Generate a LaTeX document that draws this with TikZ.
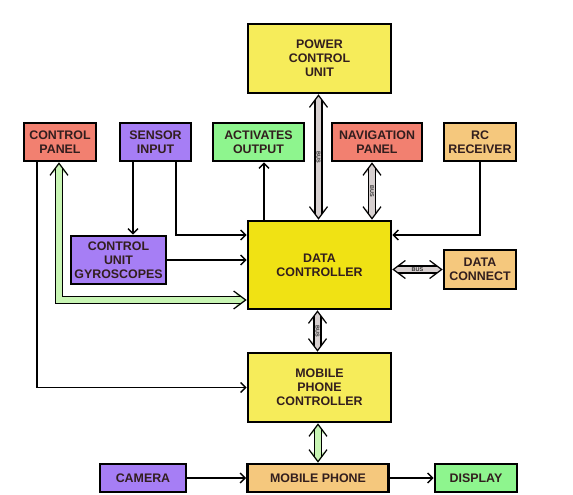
\documentclass[tikz,border=0pt]{standalone}
\usepackage{fontspec}
\setmainfont{Liberation Sans}
\usetikzlibrary{arrows.meta}
\definecolor{paleyellow}{RGB}{246,236,90}
\definecolor{deepyellow}{RGB}{240,226,20}
\definecolor{salmon}{RGB}{242,128,112}
\definecolor{lilac}{RGB}{166,126,245}
\definecolor{mint}{RGB}{142,245,142}
\definecolor{apricot}{RGB}{245,200,125}
\definecolor{txt}{RGB}{50,30,30}
\definecolor{gfill}{RGB}{200,245,180}
\definecolor{busfill}{RGB}{215,208,208}
\newcommand\widelink[2]{%
  \draw[tipfill=#1] #2;
  \draw[shaft=#1] #2;
  \draw[tipbarb] #2;
}
\begin{document}
\begin{tikzpicture}[x=1pt,y=-1pt,
  box/.style={draw=black, line width=2.8pt, font=\bfseries\fontsize{12.4}{14}\selectfont,
    text=txt, align=center, inner sep=0pt},
  conn/.style={line width=1.4pt, -{Straight Barb[length=5pt,width=10pt]}},
  tipfill/.style={draw=#1, line width=0.2pt, dash pattern=on 0pt off 2000pt,
    {Triangle[length=10pt,width=15pt,fill=#1]}-{Triangle[length=10pt,width=15pt,fill=#1]}},
  shaft/.style={double=#1, double distance=5.8pt, line width=1.2pt,
    shorten <=5.5pt, shorten >=5.5pt},
  tipbarb/.style={line width=1.2pt, dash pattern=on 0pt off 2000pt,
    {Straight Barb[length=12pt,width=18pt]}-{Straight Barb[length=12pt,width=18pt]}},
  buslabel/.style={font=\fontsize{5.5}{5.5}\selectfont\bfseries, text=gray!40!black, inner sep=0pt}]
\useasboundingbox[fill=white] (0,0) rectangle (573,495);

\node[box, fill=paleyellow, minimum width=143pt, minimum height=69pt] (pcu) at (319.5,58.5) {POWER\\CONTROL\\UNIT};
\node[box, fill=salmon, minimum width=72pt, minimum height=38pt] (cp) at (60,142) {CONTROL\\PANEL};
\node[box, fill=lilac, minimum width=71pt, minimum height=38pt] (si) at (155.5,142) {SENSOR\\INPUT};
\node[box, fill=mint, minimum width=91pt, minimum height=38pt] (ao) at (258.5,142) {ACTIVATES\\OUTPUT};
\node[box, fill=salmon, minimum width=90pt, minimum height=38pt] (np) at (377,142) {NAVIGATION\\PANEL};
\node[box, fill=apricot, minimum width=72pt, minimum height=38pt] (rc) at (480,142) {RC\\RECEIVER};
\node[box, fill=deepyellow, minimum width=143pt, minimum height=88pt] (dc) at (319.5,265) {DATA\\CONTROLLER};
\node[box, fill=lilac, minimum width=95pt, minimum height=48pt] (cug) at (118.5,260) {CONTROL\\UNIT\\GYROSCOPES};
\node[box, fill=apricot, minimum width=72pt, minimum height=39pt] (dcon) at (480,269.5) {DATA\\CONNECT};
\node[box, fill=paleyellow, minimum width=143pt, minimum height=69pt] (mpc) at (319.5,387.5) {MOBILE\\PHONE\\CONTROLLER};
\node[box, fill=lilac, minimum width=86pt, minimum height=28pt] (cam) at (143,478) {CAMERA};
\node[box, fill=apricot, minimum width=141pt, minimum height=28pt] (mp) at (318,478) {MOBILE PHONE};
\node[box, fill=mint, minimum width=82pt, minimum height=28pt] (disp) at (476,478) {DISPLAY};

% thin connectors
\draw[conn] ([xshift=-23pt]cp.south) |- (mpc.west);
\draw[conn] ([xshift=-22.5pt]si.south) -- ([xshift=-22.5pt]si.south |- cug.north);
\draw[conn] ([xshift=20.5pt]si.south) |- ([yshift=30pt]dc.west);
\draw[conn] (cug.east) -- (cug.east -| dc.west);
\draw[conn] ([xshift=-55.5pt]dc.north) -- ([xshift=-55.5pt]dc.north |- ao.south);
\draw[conn] (rc.south) |- ([yshift=30pt]dc.east);
\draw[conn] (cam.east) -- (mp.west);
\draw[conn] (mp.east) -- (disp.west);

% green wide connectors
\widelink{gfill}{([xshift=-1pt]cp.south) |- ([yshift=-35pt]dc.west)}
\widelink{gfill}{(mpc.south -| mp.north) -- (mp.north)}

% buses
\widelink{busfill}{([xshift=-1pt]pcu.south) -- ([xshift=-1pt]dc.north)}
\widelink{busfill}{([xshift=-5pt]np.south) -- ([xshift=-5pt]np.south |- dc.north)}
\widelink{busfill}{(dcon.west -| dc.east) -- (dcon.west)}
\widelink{busfill}{([xshift=-2pt]dc.south) -- ([xshift=-2pt]mpc.north)}

\path ([xshift=-1pt]pcu.south) -- node[buslabel, rotate=-90] (b1) {BUS} ([xshift=-1pt]dc.north);
\path ([xshift=-5pt]np.south) -- node[buslabel, rotate=-90] (b2) {BUS} ([xshift=-5pt]np.south |- dc.north);
\path (dcon.west -| dc.east) -- node[buslabel] (b3) {BUS} (dcon.west);
\path ([xshift=-2pt]dc.south) -- node[buslabel, rotate=-90] (b4) {BUS} ([xshift=-2pt]mpc.north);
\end{tikzpicture}
\end{document}
